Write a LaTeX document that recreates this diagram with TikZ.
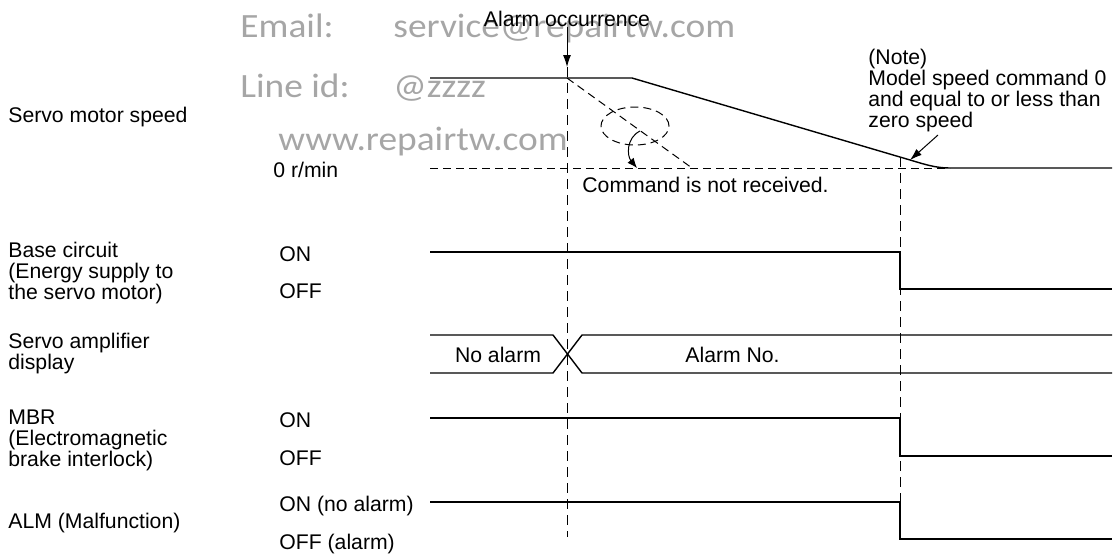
\documentclass[tikz,border=0pt]{standalone}
\usepackage{fontspec}
\setmainfont{Liberation Sans}
\newfontfamily\wmfont[FakeStretch=1.1]{Carlito}
\usetikzlibrary{arrows.meta}
\begin{document}
\begin{tikzpicture}[x=0.5pt,y=-0.5pt,
  lbl/.style={font=\fontsize{10.6pt}{10.5pt}\selectfont, inner sep=0pt, text=black},
  wm/.style={font=\wmfont\fontsize{17pt}{17pt}\selectfont, inner sep=0pt, text=black!35},
  wave/.style={line width=0.7pt, line join=miter},
  dsh/.style={line width=0.5pt, dash pattern=on 4pt off 2.5pt},
  vdsh/.style={line width=0.5pt, dash pattern=on 5pt off 3pt},
  tip/.style={-{Latex[length=6pt,width=4pt]}, line width=0.5pt},
  smalltip/.style={-{Latex[length=5pt,width=4pt]}, line width=0.5pt}]
\useasboundingbox (0,0) rectangle (1118,553);

% watermark
\node[wm, anchor=base west] (wm1) at (240,37) {Email:};
\node[wm, anchor=base west] (wm2) at (393,37) {service@repairtw.com};
\node[wm, anchor=base west] (wm3) at (240,97) {Line id:};
\node[wm, anchor=base west] (wm4) at (393,97) {@zzzz};
\node[wm, anchor=base west] (wm5) at (278,150) {www.repairtw.com};

% servo motor speed
\draw[wave] (430,78) -- (632,78) -- (905,158.5) .. controls (925,164.4) and (935,168) .. (950,168) -- (1112,168);
\draw[dsh] (430,168) -- (950,168);
\draw[dsh] (567,78) -- (692,168);
\draw[dsh] (635,126) ellipse [x radius=17pt, y radius=9.5pt];
\coordinate (e1) at (640,131);
\coordinate (e2) at (637,168);
\draw[smalltip] (e1) .. controls (626,138) and (627,156) .. (e2);

% vertical dashed lines
\draw[vdsh] (567,67) -- (567,537);
\draw[vdsh] (900,157) -- (900,502);

% alarm occurrence
\node[lbl, anchor=base] (alarm) at (567,26) {Alarm occurrence};
\coordinate (alarmtip) at (567,67);
\draw[tip] (alarm.south) -- (alarmtip);

% note
\node[lbl, anchor=north west, align=left] (note) at (868,49) {(Note)\\Model speed command 0\\and equal to or less than\\zero speed};
\coordinate (n1) at (938,135);
\coordinate (n2) at (910,160);
\draw[tip] (n1) -- (n2);

% waveforms
\draw[wave] (430,252) -- (900,252) -- (900,289) -- (1112,289);
\draw[wave] (430,335) -- (553,335) -- (582,373) -- (1112,373);
\draw[wave] (430,373) -- (553,373) -- (582,335) -- (1112,335);
\draw[wave] (430,418) -- (900,418) -- (900,456) -- (1112,456);
\draw[wave] (430,502) -- (900,502) -- (900,539) -- (1112,539);

% labels
\node[lbl, anchor=base west] (speed) at (8,122) {Servo motor speed};
\node[lbl, anchor=base west] (zero) at (273,177) {0 r/min};
\node[lbl, anchor=base west] (cmd) at (582,192) {Command is not received.};
\node[lbl, anchor=north west, align=left] (base) at (8,242) {Base circuit\\(Energy supply to\\the servo motor)};
\node[lbl, anchor=base west] (bon) at (279,261) {ON};
\node[lbl, anchor=base west] (boff) at (279,298) {OFF};
\node[lbl, anchor=north west, align=left] (disp) at (8,333) {Servo amplifier\\display};
\node[lbl, anchor=base] (noal) at (498,362) {No alarm};
\node[lbl, anchor=base west] (alno) at (685,362) {Alarm No.};
\node[lbl, anchor=north west, align=left] (mbr) at (8,410) {MBR\\(Electromagnetic\\brake interlock)};
\node[lbl, anchor=base west] (mon) at (279,427) {ON};
\node[lbl, anchor=base west] (moff) at (279,465) {OFF};
\node[lbl, anchor=base west] (alm) at (8,528) {ALM (Malfunction)};
\node[lbl, anchor=base west] (aon) at (279,511) {ON (no alarm)};
\node[lbl, anchor=base west] (aoff) at (279,549) {OFF (alarm)};
\end{tikzpicture}
\end{document}
